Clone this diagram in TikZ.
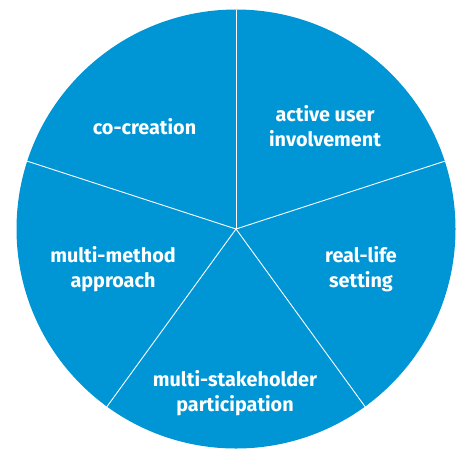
\documentclass[tikz,border=0pt]{standalone}
\usepackage{fontspec}
\setmainfont{Fira Sans}
\usetikzlibrary{calc}
\definecolor{pieblue}{RGB}{0,150,214}
\begin{document}
\begin{tikzpicture}[x=1pt,y=-1pt,
  lbl/.style={text=white,align=center,font=\fontsize{19.8}{25}\selectfont\bfseries,inner sep=0pt},
  sep/.style={draw=white,line width=0.9pt}]
\useasboundingbox (0,0) rectangle (462,448);
\coordinate (c) at (236,229);
\fill[pieblue] (c) circle (219.5);
\foreach \a [count=\i] in {90,18,306,234,162}{
  \coordinate (e\i) at ($(c)+(-\a:219.5)$);
}
\draw[sep] (c) -- (e1);
\draw[sep] (c) -- (e2);
\draw[sep] (c) -- (e3);
\draw[sep] (c) -- (e4);
\draw[sep] (c) -- (e5);
\node[lbl] (cc) at (144.5,127) {co-creation};
\node[lbl] (au) at (325,126) {active user\\involvement};
\node[lbl] (rl) at (361,269) {real-life\\setting};
\node[lbl] (ms) at (235,393) {multi-stakeholder\\participation};
\node[lbl] (mm) at (113,269) {multi-method\\approach};
\end{tikzpicture}
\end{document}
